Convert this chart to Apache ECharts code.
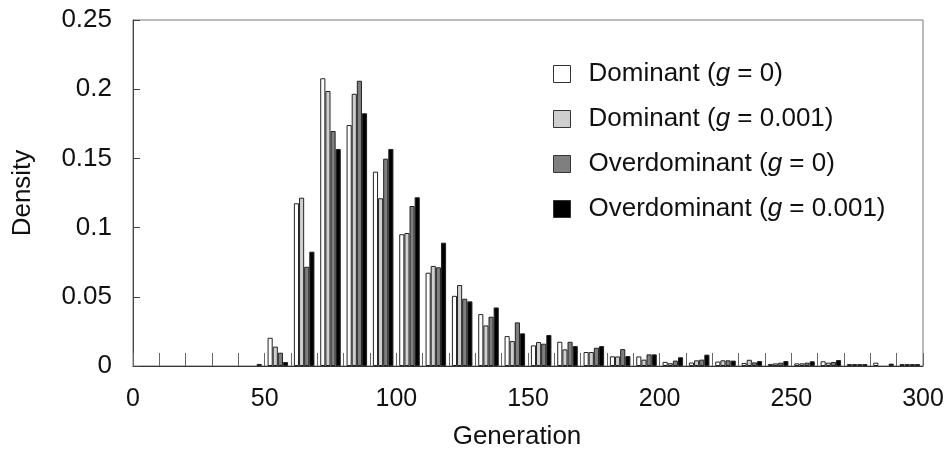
<!DOCTYPE html>
<html>
<head>
<meta charset="utf-8">
<script src="https://cdn.jsdelivr.net/npm/echarts@6/dist/echarts.min.js"></script>
<style>html,body{margin:0;padding:0;background:#fff;}#c{width:949px;height:459px;}</style>
</head>
<body>
<div id="c"></div>
<script>
// Bins of 10 generations: 0-10, 10-20, ..., 290-300
const binStarts = [0,10,20,30,40,50,60,70,80,90,100,110,120,130,140,150,160,170,180,190,200,210,220,230,240,250,260,270,280,290];
const seriesNames = ['Dominant (g = 0)', 'Dominant (g = 0.001)', 'Overdominant (g = 0)', 'Overdominant (g = 0.001)'];
const dominantG0 = [0,0,0,0,0,0.0204,0.1176,0.2079,0.1741,0.1404,0.0952,0.0674,0.0507,0.0375,0.0216,0.0149,0.0175,0.0101,0.0070,0.0069,0.0030,0.0025,0.0032,0.0022,0.0015,0.0019,0.0034,0.0014,0.0024,0.0014];
const dominantG001 = [0,0,0,0,0,0.0140,0.1216,0.1987,0.1967,0.1212,0.0961,0.0723,0.0585,0.0293,0.0180,0.0173,0.0120,0.0101,0.0069,0.0046,0.0020,0.0041,0.0041,0.0045,0.0019,0.0019,0.0024,0.0014,0,0.0014];
const overdominantG0 = [0,0,0,0,0,0.0096,0.0717,0.1698,0.2061,0.1498,0.1156,0.0713,0.0486,0.0356,0.0315,0.0161,0.0175,0.0132,0.0122,0.0084,0.0039,0.0046,0.0041,0.0026,0.0024,0.0024,0.0029,0.0014,0,0.0014];
const overdominantG001 = [0,0,0,0,0.0015,0.0029,0.0826,0.1568,0.1826,0.1568,0.1219,0.0891,0.0467,0.0423,0.0236,0.0224,0.0144,0.0144,0.0072,0.0084,0.0063,0.0082,0.0039,0.0036,0.0036,0.0034,0.0043,0.0014,0.0017,0.0014];
const xTickLabels = [0,50,100,150,200,250,300];
const yTickLabels = ['0','0.05','0.1','0.15','0.2','0.25'];

const seriesData = [dominantG0, dominantG001, overdominantG0, overdominantG001];
const fills = ['#ffffff', '#cfcfcf', '#7f7f7f', '#000000'];
const FONT = '"Liberation Sans", Arial, Helvetica, sans-serif';

const chart = echarts.init(document.getElementById('c'), null, {renderer: 'canvas'});
const legendText = {
  'Dominant (g = 0)': '{r|Dominant (}{i|g}{r| = 0)}',
  'Dominant (g = 0.001)': '{r|Dominant (}{i|g}{r| = 0.001)}',
  'Overdominant (g = 0)': '{r|Overdominant (}{i|g}{r| = 0)}',
  'Overdominant (g = 0.001)': '{r|Overdominant (}{i|g}{r| = 0.001)}'
};
chart.setOption({
  animation: false,
  backgroundColor: '#fff',
  textStyle: {fontFamily: FONT},
  grid: {left: 133, right: 26, top: 20, bottom: 93, show: true, borderColor: '#777', borderWidth: 1, backgroundColor: 'transparent'},
  legend: {
    orient: 'vertical', left: 553, top: 61, padding: 0,
    itemWidth: 17, itemHeight: 17, itemGap: 19,
    icon: 'rect',
    data: seriesNames,
    formatter: n => legendText[n],
    itemStyle: {borderColor: '#333', borderWidth: 1},
    textStyle: {
      padding: [0, 0, 0, 13],
      rich: {
        r: {fontSize: 26, lineHeight: 26, fontFamily: FONT, color: '#111'},
        i: {fontSize: 26, lineHeight: 26, fontFamily: FONT, fontStyle: 'italic', color: '#111'}
      }
    }
  },
  xAxis: [{
    type: 'category', data: binStarts, boundaryGap: true, position: 'bottom',
    axisLine: {show: true, lineStyle: {color: '#333', width: 1}},
    axisTick: {show: true, inside: true, length: 13, interval: 0, lineStyle: {color: '#666'}},
    axisLabel: {show: false}, splitLine: {show: false}
  }, {
    type: 'value', min: 0, max: 300, interval: 50, position: 'bottom',
    axisLine: {show: false}, axisTick: {show: false}, splitLine: {show: false},
    axisLabel: {show: true, margin: 21, fontSize: 25, color: '#111', fontFamily: FONT,
      formatter: v => xTickLabels.indexOf(v) >= 0 ? String(v) : ''},
    name: 'Generation', nameLocation: 'middle', nameGap: 58,
    nameTextStyle: {fontSize: 26, color: '#111', fontFamily: FONT, padding: [0, 22, 0, 0]}
  }],
  yAxis: {
    type: 'value', min: 0, max: 0.25, interval: 0.05,
    axisLine: {show: true, lineStyle: {color: '#444', width: 1}},
    axisTick: {show: true, inside: true, length: 7, lineStyle: {color: '#444'}},
    splitLine: {show: false},
    axisLabel: {margin: 21, fontSize: 26, color: '#111', fontFamily: FONT,
      formatter: v => yTickLabels[Math.round(v / 0.05)]},
    name: 'Density', nameLocation: 'middle', nameGap: 97, nameRotate: 90,
    nameTextStyle: {fontSize: 26, color: '#111', fontFamily: FONT}
  },
  series: seriesData.map((d, i) => ({
    name: seriesNames[i], type: 'bar', xAxisIndex: 0,
    data: d.map(v => v === 0 ? '-' : v),
    barGap: '0%', barCategoryGap: '22%',
    itemStyle: {color: fills[i], borderColor: '#222', borderWidth: 1}
  }))
});
</script>
</body>
</html>
